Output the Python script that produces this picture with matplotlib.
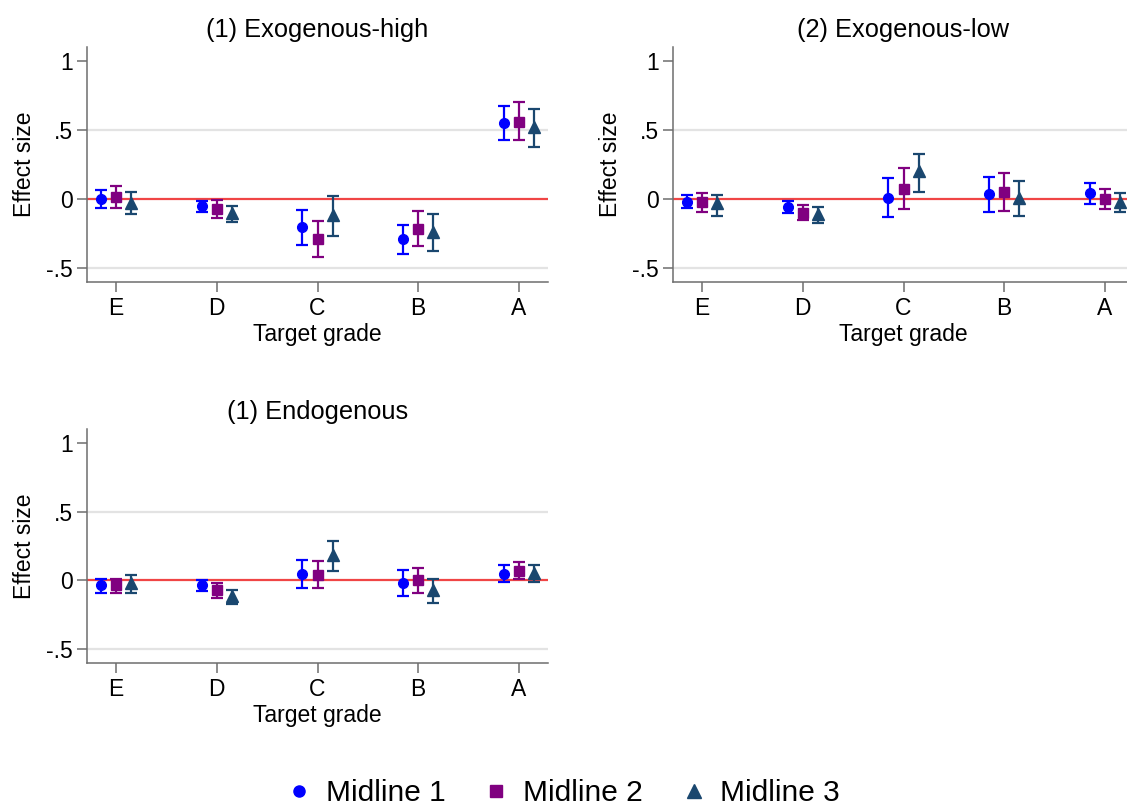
import numpy as np
import matplotlib
matplotlib.use("Agg")
import matplotlib.pyplot as plt
from matplotlib.lines import Line2D

plt.rcParams['font.family'] = ['Liberation Sans', 'DejaVu Sans']

grades = ["E", "D", "C", "B", "A"]
series = ["Midline 1", "Midline 2", "Midline 3"]
colors = ["#0000ff", "#800080", "#1a476f"]
markers = ["o", "s", "^"]
msizes = [7, 7, 9]

# panel titles
titles = ["(1) Exogenous-high", "(2) Exogenous-low", "(1) Endogenous"]

# point estimates [panel][series][grade]
est = [
    [[0.00, -0.048, -0.203, -0.292, 0.548],
     [0.017, -0.072, -0.287, -0.215, 0.560],
     [-0.027, -0.100, -0.118, -0.237, 0.519]],
    [[-0.019, -0.056, 0.010, 0.034, 0.041],
     [-0.019, -0.100, 0.072, 0.053, 0.000],
     [-0.031, -0.109, 0.203, 0.010, -0.020]],
    [[-0.036, -0.036, 0.048, -0.017, 0.048],
     [-0.031, -0.072, 0.041, 0.002, 0.072],
     [-0.020, -0.116, 0.186, -0.072, 0.053]],
]
# confidence interval lower bounds
lo = [
    [[-0.063, -0.092, -0.331, -0.396, 0.428],
     [-0.063, -0.135, -0.420, -0.340, 0.425],
     [-0.110, -0.167, -0.266, -0.379, 0.374]],
    [[-0.068, -0.101, -0.128, -0.097, -0.036],
     [-0.092, -0.155, -0.075, -0.087, -0.070],
     [-0.126, -0.171, 0.053, -0.123, -0.097]],
    [[-0.089, -0.080, -0.053, -0.111, -0.012],
     [-0.092, -0.126, -0.053, -0.092, 0.007],
     [-0.089, -0.174, 0.070, -0.167, -0.010]],
]
# confidence interval upper bounds
hi = [
    [[0.068, -0.012, -0.077, -0.188, 0.674],
     [0.097, -0.010, -0.159, -0.087, 0.703],
     [0.050, -0.053, 0.022, -0.109, 0.655]],
    [[0.029, -0.014, 0.150, 0.162, 0.118],
     [0.043, -0.043, 0.225, 0.191, 0.070],
     [0.031, -0.058, 0.326, 0.130, 0.041]],
    [[0.012, 0.002, 0.150, 0.075, 0.109],
     [0.012, -0.017, 0.143, 0.087, 0.133],
     [0.041, -0.068, 0.285, 0.010, 0.109]],
]

fig = plt.figure(figsize=(11.27, 8.05), dpi=100)
W, H = 1127, 805
boxes = [(87, 47, 461, 235), (673, 47, 461, 235), (87, 429, 461, 234)]
offsets = [-0.15, 0.0, 0.15]
x = np.arange(1, len(grades) + 1)
axis_grey = "#6e6e6e"

for p, (l, t, w, h) in enumerate(boxes):
    ax = fig.add_axes([l / W, (H - t - h) / H, w / W, h / H])
    ax.set_xlim(0.71, 5.29)
    ax.set_ylim(-0.6, 1.1)
    for g in (-0.5, 0.5):
        ax.axhline(g, color="#e3e3e3", lw=1.6, zorder=0)
    ax.axhline(0, color="#f04545", lw=1.6, zorder=1)
    for s in range(3):
        e = np.array(est[p][s])
        yerr = [e - np.array(lo[p][s]), np.array(hi[p][s]) - e]
        ax.errorbar(x + offsets[s], e, yerr=yerr, fmt=markers[s], color=colors[s],
                    ms=msizes[s], elinewidth=1.6, capsize=4.5, capthick=1.6, zorder=3)
    ax.set_xticks(x)
    ax.set_xticklabels(grades)
    ax.set_yticks([-0.5, 0, 0.5, 1])
    ax.set_yticklabels(["-.5", "0", ".5", "1"])
    ax.tick_params(labelsize=16.5, length=7, width=1.1, color=axis_grey, pad=3)
    ax.tick_params(axis="x", pad=4)
    for side in ("top", "right"):
        ax.spines[side].set_visible(False)
    for side in ("left", "bottom"):
        ax.spines[side].set_color(axis_grey)
        ax.spines[side].set_linewidth(1.1)
    ax.set_xlabel("Target grade", fontsize=16.5, labelpad=2)
    ax.set_ylabel("Effect size", fontsize=16.5)
    ax.yaxis.set_label_coords(-0.11, 0.5)
    ax.set_title(titles[p], fontsize=18.3, pad=7)

handles = [Line2D([], [], marker=markers[s], color=colors[s], ls="none", ms=msizes[s] + 1)
           for s in range(3)]
fig.legend(handles, series, loc="center", bbox_to_anchor=(0.5, 1 - 793 / H), ncol=3,
           frameon=False, fontsize=21.5, handlelength=0.8, handletextpad=0.5,
           columnspacing=1.3)

fig.savefig("out.png", dpi=100)
